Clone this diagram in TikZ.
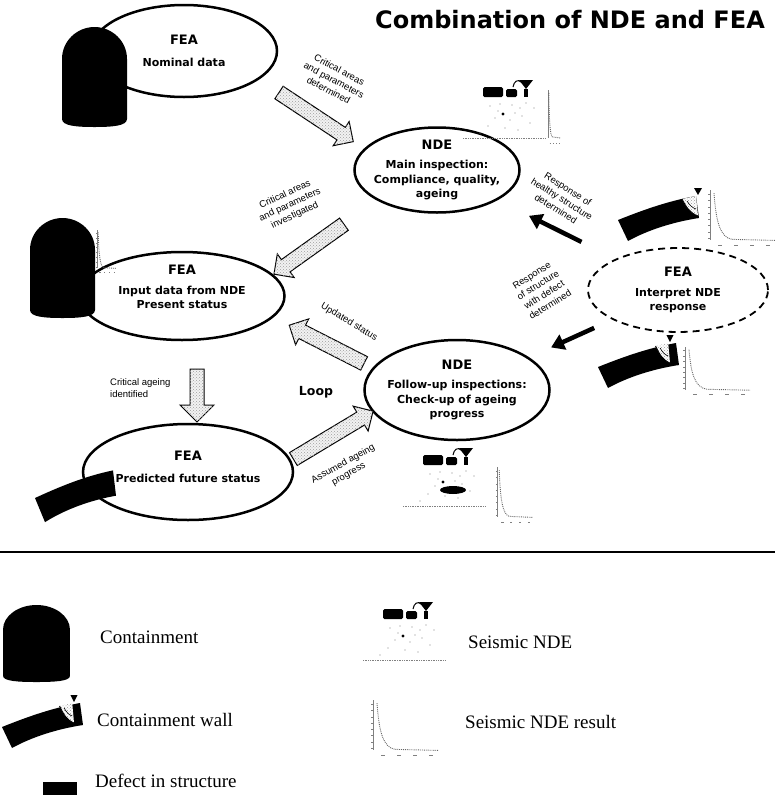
\documentclass[tikz,border=0pt]{standalone}
\usepackage{fontspec}
\setmainfont{Liberation Serif}
\setsansfont{DejaVu Sans}
\newfontfamily\notefont{Liberation Sans}
\usetikzlibrary{shapes.geometric, shapes.arrows, arrows.meta, patterns}

\begin{document}
\begin{tikzpicture}[
  x=1pt, y=-1pt,
  bubble/.style={draw, ellipse, line width=2.5pt, fill=white, inner sep=0pt},
  txt/.style={align=center, inner sep=0pt, font=\sffamily\bfseries\fontsize{11}{14.5}\selectfont},
  note/.style={align=center, inner sep=0pt, font=\notefont\fontsize{9.5}{11.5}\selectfont},
  key/.style={anchor=west, inner sep=0pt, font=\fontsize{19}{22}\selectfont},
  hollow/.style={single arrow, draw, line width=1pt, fill=gray!10, postaction={pattern=crosshatch dots, pattern color=gray!75}, inner sep=7pt, single arrow head extend=7pt},
  push/.style={line width=4.5pt, -{Triangle[length=13pt, width=16pt]}},
  dome/.pic={
    \fill (0,32) .. controls (0,14) and (15,0) .. (32.5,0) .. controls (50,0) and (65,14) .. (65,32)
      -- (65,92) .. controls (65,99) and (50,100) .. (32.5,100) .. controls (15,100) and (0,99) .. (0,92) -- cycle;
  },
  wall/.pic={
    \fill (0,0) .. controls (25,-10) and (50,-19) .. (78,-24) -- (81,-2) .. controls (55,2) and (30,10) .. (10,21) -- cycle;
  },
  crackedwall/.pic={
    \pic {wall};
    \fill[white] (64,-21) .. controls (68,-13) and (72,-7) .. (80,-4) -- (78,-24) -- cycle;
    \fill[pattern=crosshatch dots, pattern color=gray!80] (64,-21) .. controls (68,-13) and (72,-7) .. (80,-4) -- (78,-24) -- cycle;
    \draw[line width=0.9pt] (64,-21) .. controls (68,-13) and (72,-7) .. (80,-4);
    \draw[line width=0.6pt] (69,-19) .. controls (72,-14) and (75,-12) .. (78,-11);
    \fill (76,-32) -- (84,-32) -- (80,-25) -- cycle;
  },
  seismic/.pic={
    \fill[rounded corners=1.5pt] (23,9) rectangle (43,19);
    \fill[rounded corners=1.5pt] (46,11) rectangle (57,19);
    \fill (59,2) -- (73,2) -- (66,11) -- cycle;
    \fill (64,11) rectangle (68,19);
    \draw[line width=1pt] (53,9) .. controls (54,3) and (58,1) .. (61,4);
    \foreach \px/\py in {30/28,40/26,52/27,60/30,35/40,50/42,62/38,28/48,45/50,58/52,70/45,20/55,66/25,38/33,55/35,74/30}
      \fill[gray] (\px,\py) circle (0.7);
    \fill (43,36) circle (1.6);
    \draw[gray, densely dotted, line width=0.7pt] (3,60) -- (85,60);
  },
  response/.pic={
    \draw[gray, line width=0.7pt] (0,0) -- (0,48);
    \foreach \ty in {4,10,...,46}
      \draw[gray, line width=0.6pt] (-2,\ty) -- (0,\ty);
    \draw[gray!80!black, densely dotted, line width=0.9pt] (4,3) .. controls (6,30) and (10,45) .. (22,47) -- (65,48);
    \foreach \tx in {8,24,40,56}
      \draw[gray, line width=0.6pt] (\tx,53) -- (\tx+4,53);
  }
]
  \useasboundingbox (0,0) rectangle (775,796);

  \node (title) [font=\sffamily\bfseries\fontsize{24}{28}\selectfont] at (570,20) {Combination of NDE and FEA};

  \node (nominal) [bubble, minimum width=186pt, minimum height=92pt] at (184,51) {};
  \node (mainnde) [bubble, minimum width=165pt, minimum height=85pt] at (437,170) {};
  \node (present) [bubble, minimum width=205pt, minimum height=88pt] at (182,296) {};
  \node (followup) [bubble, minimum width=185pt, minimum height=100pt] at (457,390) {};
  \node (future) [bubble, minimum width=210pt, minimum height=96pt] at (188,472) {};
  \node (interp) [bubble, dashed, dash pattern=on 7pt off 5pt, line width=1.8pt, minimum width=180pt, minimum height=84pt] at (678,290) {};

  \node (nominaltxt) [txt] at (nominal) {{\fontsize{13}{15}\selectfont FEA}\\[7pt]Nominal data};
  \node (mainndetxt) [txt] at (mainnde) {{\fontsize{13}{15}\selectfont NDE}\\[5pt]Main inspection:\\Compliance, quality,\\ageing};
  \node (presenttxt) [txt] at (182,287) {{\fontsize{13}{15}\selectfont FEA}\\[5pt]Input data from NDE\\Present status};
  \node (followuptxt) [txt] at (followup) {{\fontsize{13}{15}\selectfont NDE}\\[5pt]Follow-up inspections:\\Check-up of ageing\\progress};
  \node (futuretxt) [txt] at (188,467) {{\fontsize{13}{15}\selectfont FEA}\\[7pt]Predicted future status};
  \node (interptxt) [txt] at (interp) {{\fontsize{13}{15}\selectfont FEA}\\[5pt]Interpret NDE\\response};

  \pic (dometop) at (62,27) {dome};
  \pic (domemid) at (30,218) {dome};
  \pic (wallfuture) [yscale=1.15] at (35,498) {wall};
  \pic (wallhealthy) at (618,220) {crackedwall};
  \pic (walldefect) [xscale=0.9] at (598,367) {crackedwall};

  \pic (seismictop) at (460,78) {seismic};
  \pic (seismicbottom) at (400,446) {seismic};
  \fill (453,490) ellipse [x radius=13, y radius=4];

  \pic (resptop) [xscale=0.2] at (548,90) {response};
  \pic (respdome) [xscale=0.3, yscale=0.8] at (97,230) {response};
  \pic (resphealthy) [yscale=1.05] at (710,190) {response};
  \pic (respdefect) [yscale=0.9] at (685,347) {response};
  \pic (respbottom) [xscale=0.55, yscale=1.05] at (497,467) {response};

  \node (determined) [hollow, minimum height=89pt, rotate=-33.5] at (313,115) {};
  \node (investigated) [hollow, minimum height=86pt, rotate=-144.5] at (312,247) {};
  \node (updated) [hollow, minimum height=84pt, rotate=153] at (330,346) {};
  \node (assumed) [hollow, minimum height=93pt, rotate=31] at (330,437) {};
  \node (identified) [hollow, minimum height=53pt, inner sep=6.5pt, single arrow head extend=10pt, rotate=-90] at (197,392) {};

  \draw [push, shorten <=38pt, shorten >=35pt] (interp) -- (mainnde);
  \draw [push, shorten <=20pt, shorten >=24pt] (interp) -- (followup);

  \node (determinedlbl) [note, rotate=-28] at (334,80) {Critical areas\\and parameters\\determined};
  \node (investigatedlbl) [note, rotate=25] at (290,205) {Critical areas\\and parameters\\investigated};
  \node (updatedlbl) [note, rotate=-31] at (349,322) {Updated status};
  \node (assumedlbl) [note, rotate=29] at (346,469) {Assumed ageing\\progress};
  \node (identifiedlbl) [note, align=left, anchor=west] at (110,388) {Critical ageing\\identified};
  \node (healthylbl) [note, rotate=-32] at (562,199) {Response of\\healthy structure\\determined};
  \node (defectlbl) [note, rotate=32] at (541,290) {Response\\of structure\\with defect\\determined};
  \node (loop) [font=\sffamily\bfseries\fontsize{12.5}{14}\selectfont] at (316,392) {Loop};

  \coordinate (rulestart) at (0,552);
  \coordinate (ruleend) at (775,552);
  \draw [line width=2pt] (rulestart) -- (ruleend);

  \pic (domekey) [xscale=1.03, yscale=0.77] at (3,605) {dome};
  \pic (wallkey) [xscale=0.9] at (2,727) {crackedwall};
  \fill (43,782) rectangle (77,795);
  \pic (seismickey) at (360,600) {seismic};
  \pic (respkey) [yscale=1.05] at (373,700) {response};

  \node (domekeytxt) [key] at (100,637) {Containment};
  \node (wallkeytxt) [key] at (97,720) {Containment wall};
  \node (defectkeytxt) [key] at (95,781) {Defect in structure};
  \node (seismickeytxt) [key] at (468,642) {Seismic NDE};
  \node (respkeytxt) [key] at (465,722) {Seismic NDE result};
\end{tikzpicture}
\end{document}
